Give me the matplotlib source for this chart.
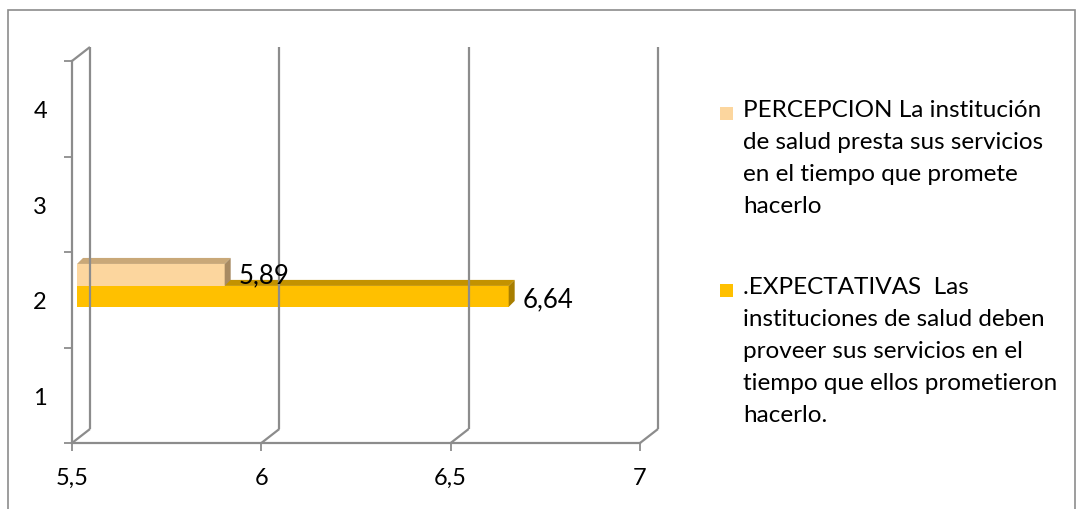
import numpy as np
import matplotlib
matplotlib.use("Agg")
import matplotlib.pyplot as plt
from matplotlib.patches import Polygon, Rectangle
from matplotlib.lines import Line2D
from matplotlib.transforms import IdentityTransform

# data
series_names = [
    "PERCEPCION La institución\nde salud presta sus servicios\nen el tiempo que promete\nhacerlo",
    ".EXPECTATIVAS  Las\ninstituciones de salud deben\nproveer sus servicios en el\ntiempo que ellos prometieron\nhacerlo.",
]
values = [5.89, 6.64]
value_labels = ["5,89", "6,64"]
category = 2
bar_bottom = [2.145, 1.925]     # lower edge of each bar inside category 2
bar_height = [0.23, 0.22]
front_colors = ["#FCD69E", "#FFC000"]
top_colors = ["#C9A878", "#C39200"]
side_colors = ["#A88A62", "#A87E00"]
x_ticks = [5.5, 6, 6.5, 7]
x_ticklabels = ["5,5", "6", "6,5", "7"]
y_ticks = [1, 2, 3, 4]

plt.rcParams["font.family"] = ["Lato", "DejaVu Sans"]
grid_col = "#8C8C8C"

fig = plt.figure(figsize=(10.78, 5.10), dpi=100)
W, H = 1078, 510
ax = fig.add_axes([72 / W, 66 / H, 568 / W, 382 / H])
ax.set_xlim(5.5, 7)
ax.set_ylim(0.5, 4.5)
ax.set_facecolor("none")
for s in ["top", "right"]:
    ax.spines[s].set_visible(False)
for s in ["left", "bottom"]:
    ax.spines[s].set_color(grid_col)
    ax.spines[s].set_linewidth(1.6)

ax.set_xticks(x_ticks)
ax.set_xticklabels(x_ticklabels, fontsize=17)
ax.set_yticks(y_ticks)
ax.set_yticklabels([str(t) for t in y_ticks], fontsize=17)
ax.set_yticks(np.arange(0.5, 4.6, 1.0), minor=True)
ax.tick_params(axis="x", length=6, width=1.3, color=grid_col, pad=11)
ax.tick_params(axis="y", which="major", length=0, pad=18)
ax.tick_params(axis="y", which="minor", length=6, width=1.3, color=grid_col)

fig.canvas.draw()
depth = np.array([18.0, 14.0])


def disp(x, y, d=0.0, shift=(0.0, 0.0)):
    p = ax.transData.transform((x, y))
    return p + depth * d + np.array(shift)


def line(p, q):
    fig.add_artist(Line2D([p[0], q[0]], [p[1], q[1]], transform=IdentityTransform(),
                          color=grid_col, lw=1.6, solid_capstyle="butt"))


# walls: left wall back edge and floor gridlines
y0, y1 = ax.get_ylim()
line(disp(5.5, y1), disp(5.5, y1, 1))
for xt in x_ticks:
    line(disp(xt, y0), disp(xt, y0, 1))
    line(disp(xt, y0, 1), disp(xt, y1, 1))

# bars (3d look)
shift = (5.0, 0.0)
bd = np.array([6.0, 6.0])
for i in [1, 0]:
    yb = bar_bottom[i]
    yt = yb + bar_height[i]
    bl = disp(5.5, yb, 0, shift)
    br = disp(values[i], yb, 0, shift)
    tl = disp(5.5, yt, 0, shift)
    tr = disp(values[i], yt, 0, shift)
    fig.add_artist(Polygon([bl, br, tr, tl], closed=True, transform=IdentityTransform(),
                           facecolor=front_colors[i], edgecolor="none"))
    fig.add_artist(Polygon([tl, tr, tr + bd, tl + bd], closed=True, transform=IdentityTransform(),
                           facecolor=top_colors[i], edgecolor="none"))
    fig.add_artist(Polygon([br, br + bd, tr + bd, tr], closed=True, transform=IdentityTransform(),
                           facecolor=side_colors[i], edgecolor="none"))
    mid = (br + tr) / 2 + np.array([14.0, 0.0 if i == 0 else -2.0])
    fig.text(mid[0] / W, mid[1] / H, value_labels[i], fontsize=18.5, ha="left", va="center")

# legend
leg_top = [H - 100, H - 277]
for i in range(2):
    fig.add_artist(Rectangle((720 / W, (leg_top[i] - 21) / H), 13 / W, 13 / H,
                             transform=fig.transFigure, facecolor=front_colors[i], edgecolor="none"))
    fig.text(743 / W, leg_top[i] / H, series_names[i], fontsize=17.5, ha="left", va="top",
             linespacing=1.64)

# outer border
fig.add_artist(Rectangle((8 / W, -2 / H), 1067 / W, (H - 11 + 2) / H, transform=fig.transFigure,
                         facecolor="none", edgecolor="#8C8C8C", lw=1.2))

fig.savefig("out.png", dpi=100)
